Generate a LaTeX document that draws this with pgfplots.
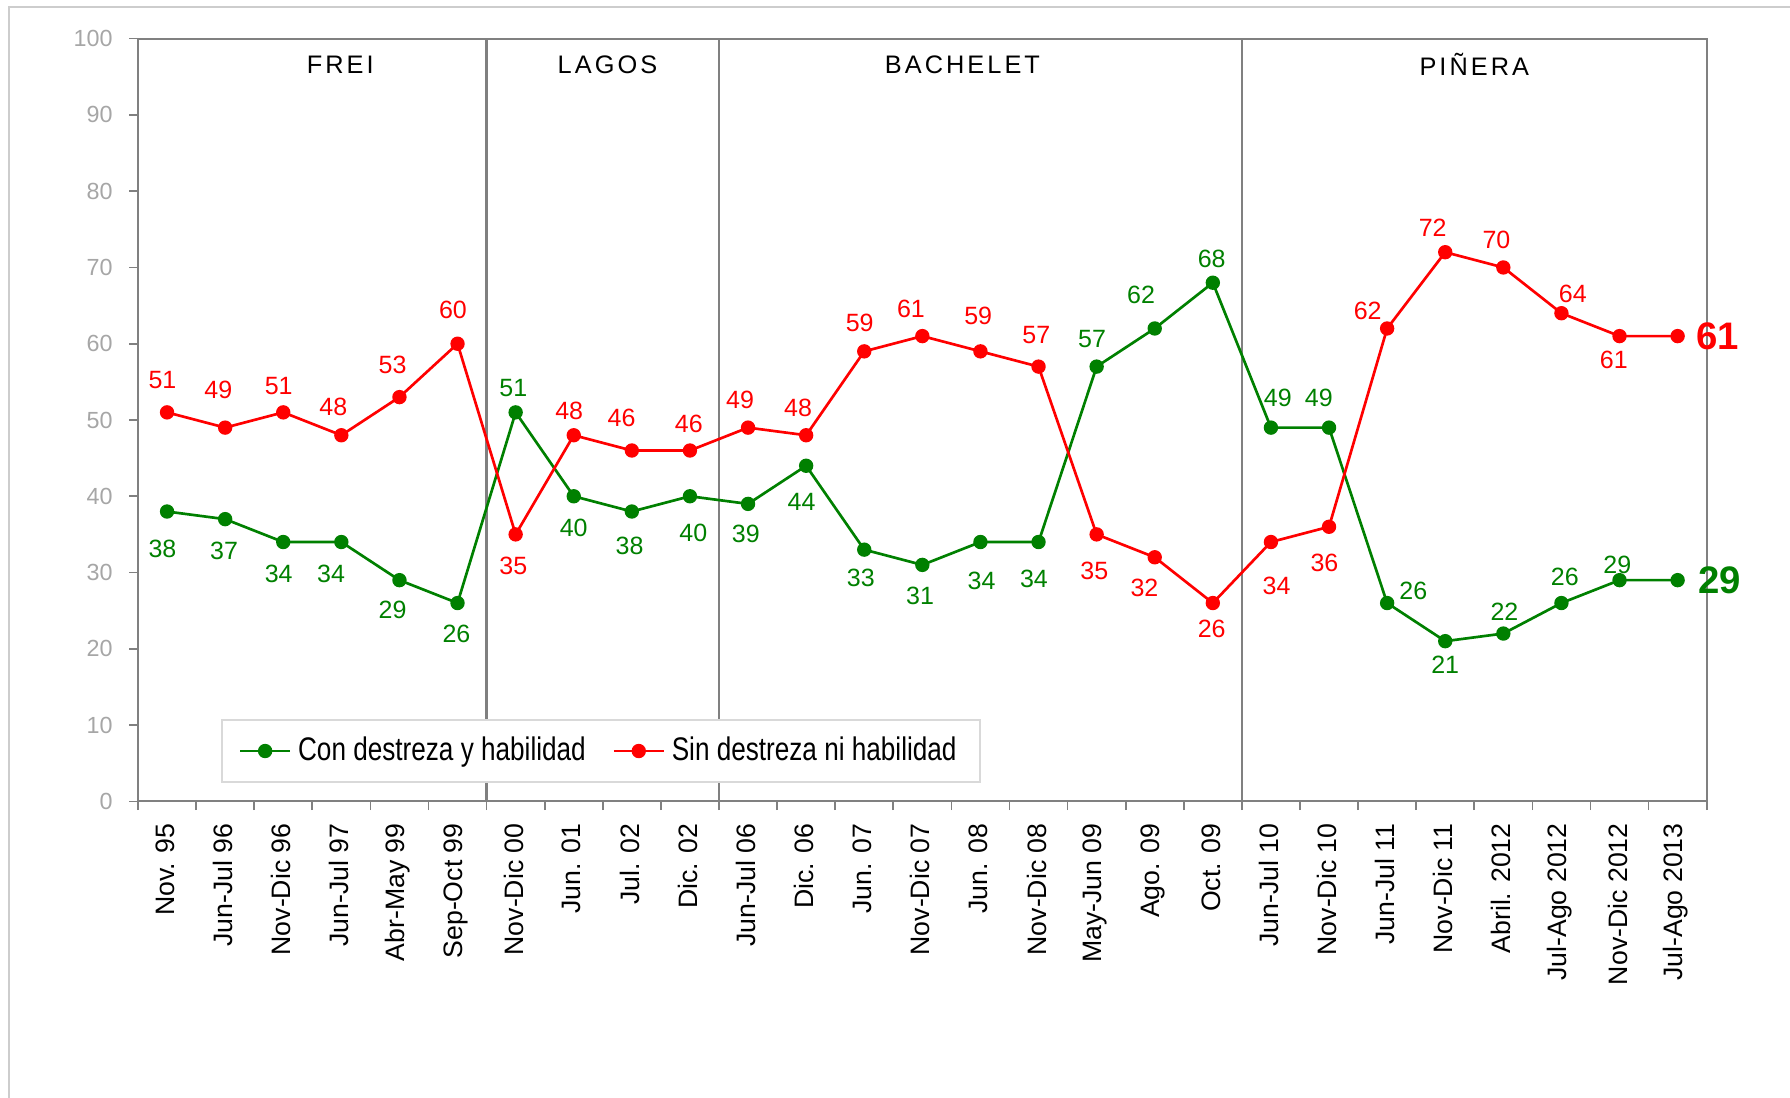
\documentclass[border=0pt]{standalone}
\usepackage{fontspec}
\setmainfont{Liberation Sans}
\newfontfamily\narrowfont[FakeStretch=0.8]{Liberation Sans}
\newfontfamily\spacedfont[LetterSpace=12]{Liberation Sans}
\usepackage{pgfplots}
\usepackage{pgfplotstable}
\pgfplotsset{compat=1.18}

\definecolor{cgreen}{RGB}{0,128,0}
\definecolor{cred}{RGB}{255,0,0}
\definecolor{axisgray}{RGB}{128,128,128}
\definecolor{ticklabgray}{RGB}{166,166,166}
\definecolor{framegray}{RGB}{205,205,205}
\definecolor{legframe}{RGB}{217,217,217}
\tikzset{valnode/.style={anchor=center, font=\fontsize{7.5}{9}\selectfont}}

% x, value, label offset dx/dy (in reference pixels)
\pgfplotstableread{
x y dx dy
0 38 -4 -33
1 37 -1 -28
2 34 -4 -28
3 34 -9 -28
4 29 -6 -26
5 26 -1 -27
6 51 -2 21
7 40 0 -28
8 38 -2 -30
9 40 3 -32
10 39 -2 -26
11 44 -4 -32
12 33 -3 -25
13 31 -2 -27
14 34 1 -34
15 34 -4 -32
16 57 -4 24
17 62 -12 29
18 68 -1 21
19 49 6 26
20 49 -9 26
21 26 23 11
22 21 0 -21
23 22 1 19
24 26 3 23
25 29 -2 13
26 29 37 0
}\condata

\pgfplotstableread{
x y dx dy
0 51 -4 28
1 49 -6 33
2 51 -4 23
3 48 -7 25
4 53 -6 28
5 60 -4 30
6 35 -2 -28
7 48 -4 21
8 46 -9 29
9 46 -1 23
10 49 -7 24
11 48 -7 24
12 59 -4 25
13 61 -10 24
14 59 -2 31
15 57 -2 28
16 35 -2 -32
17 32 -9 -27
18 26 -1 -23
19 34 5 -38
20 36 -4 -32
21 62 -17 15
22 72 -11 21
23 70 -6 24
24 64 10 17
25 61 -5 -21
26 61 35 0
}\sindata

\begin{document}
\begin{tikzpicture}
\useasboundingbox (-41.4pt,-88.7pt) rectangle (495.6pt,240.4pt);
\draw[framegray, line width=0.7pt] (-38.66pt,-89pt) -- (-38.66pt,238.35pt) -- (496pt,238.35pt);
\begin{axis}[
    at={(0pt,0pt)}, anchor=south west,
    width=470.6pt, height=228.8pt, scale only axis,
    xmin=-0.5, xmax=26.5, ymin=0, ymax=100,
    xtick={-0.5,0.5,...,26.5},
    x tick label as interval,
    xticklabels={Nov. 95,Jun-Jul 96,Nov-Dic 96,Jun-Jul 97,Abr-May 99,Sep-Oct 99,
        Nov-Dic 00,Jun. 01,Jul. 02,Dic. 02,Jun-Jul 06,Dic. 06,Jun. 07,Nov-Dic 07,
        Jun. 08,Nov-Dic 08,May-Jun 09,Ago. 09,Oct. 09,Jun-Jul 10,Nov-Dic 10,
        Jun-Jul 11,Nov-Dic 11,Abril. 2012,Jul-Ago 2012,Nov-Dic 2012,Jul-Ago 2013},
    ytick={0,10,...,100},
    xtick pos=bottom, ytick pos=left,
    tick align=outside,
    major tick length=2.6pt,
    tick style={axisgray, line width=0.5pt},
    axis line style={axisgray, line width=0.6pt},
    /pgf/number format/assume math mode=true,
    xticklabel style={rotate=90, anchor=east, font=\fontsize{8}{9}\selectfont, text=black, xshift=-0.5pt, yshift=0.6pt},
    yticklabel style={font=\fontsize{7}{8}\selectfont, text=ticklabgray, xshift=-1.5pt},
    legend style={at={(0.053,0.024)}, anchor=south west, draw=legframe, line width=0.6pt,
        font=\narrowfont\fontsize{9.8}{11}\selectfont, inner xsep=5pt, inner ysep=3pt,
        legend columns=2, /tikz/every even column/.append style={column sep=6pt}},
    legend cell align=left,
    legend image code/.code={\draw[mark repeat=2,mark phase=2] plot coordinates {(0pt,0pt)(7.5pt,0pt)(15pt,0pt)};},
    every axis plot/.append style={line width=0.8pt},
]
\draw[axisgray, line width=0.8pt] (axis cs:5.5,0) -- (axis cs:5.5,100);
\draw[axisgray, line width=0.8pt] (axis cs:9.5,0) -- (axis cs:9.5,100);
\draw[axisgray, line width=0.8pt] (axis cs:18.5,0) -- (axis cs:18.5,100);
\node[font=\spacedfont\fontsize{7.6}{9}\selectfont] at (axis cs:2.98,96.6) {FREI};
\node[font=\spacedfont\fontsize{7.6}{9}\selectfont] at (axis cs:7.58,96.6) {LAGOS};
\node[font=\spacedfont\fontsize{7.6}{9}\selectfont] at (axis cs:13.69,96.6) {BACHELET};
\node[font=\spacedfont\fontsize{7.6}{9}\selectfont] at (axis cs:22.5,96.6) {PIÑERA};

\addplot[cgreen, mark=*, mark size=1.75pt] table[x=x,y=y]{\condata};
\addlegendentry{Con destreza y habilidad}
\addplot[cred, mark=*, mark size=1.75pt] table[x=x,y=y]{\sindata};
\addlegendentry{Sin destreza ni habilidad}

% value labels
\addplot[draw=none, mark=none, forget plot, restrict x to domain=0:25,
    nodes near coords, point meta=explicit,
    visualization depends on={\thisrow{dx}\as\dx},
    visualization depends on={\thisrow{dy}\as\dy},
    nodes near coords style={valnode, text=cgreen, xshift={\dx*0.3425pt}, yshift={\dy*0.3425pt}}]
    table[x=x,y=y,meta=y]{\condata};
\addplot[draw=none, mark=none, forget plot, restrict x to domain=0:25,
    nodes near coords, point meta=explicit,
    visualization depends on={\thisrow{dx}\as\dx},
    visualization depends on={\thisrow{dy}\as\dy},
    nodes near coords style={valnode, text=cred, xshift={\dx*0.3425pt}, yshift={\dy*0.3425pt}}]
    table[x=x,y=y,meta=y]{\sindata};
% last values, large
\addplot[draw=none, mark=none, forget plot, restrict x to domain=26:26,
    nodes near coords, point meta=explicit,
    visualization depends on={\thisrow{dx}\as\dx},
    nodes near coords style={anchor=center, font=\bfseries\fontsize{11.5}{13}\selectfont, text=cgreen, xshift={\dx*0.3425pt}}]
    table[x=x,y=y,meta=y]{\condata};
\addplot[draw=none, mark=none, forget plot, restrict x to domain=26:26,
    nodes near coords, point meta=explicit,
    visualization depends on={\thisrow{dx}\as\dx},
    nodes near coords style={anchor=center, font=\bfseries\fontsize{11.5}{13}\selectfont, text=cred, xshift={\dx*0.3425pt}}]
    table[x=x,y=y,meta=y]{\sindata};
\end{axis}
\end{tikzpicture}
\end{document}
